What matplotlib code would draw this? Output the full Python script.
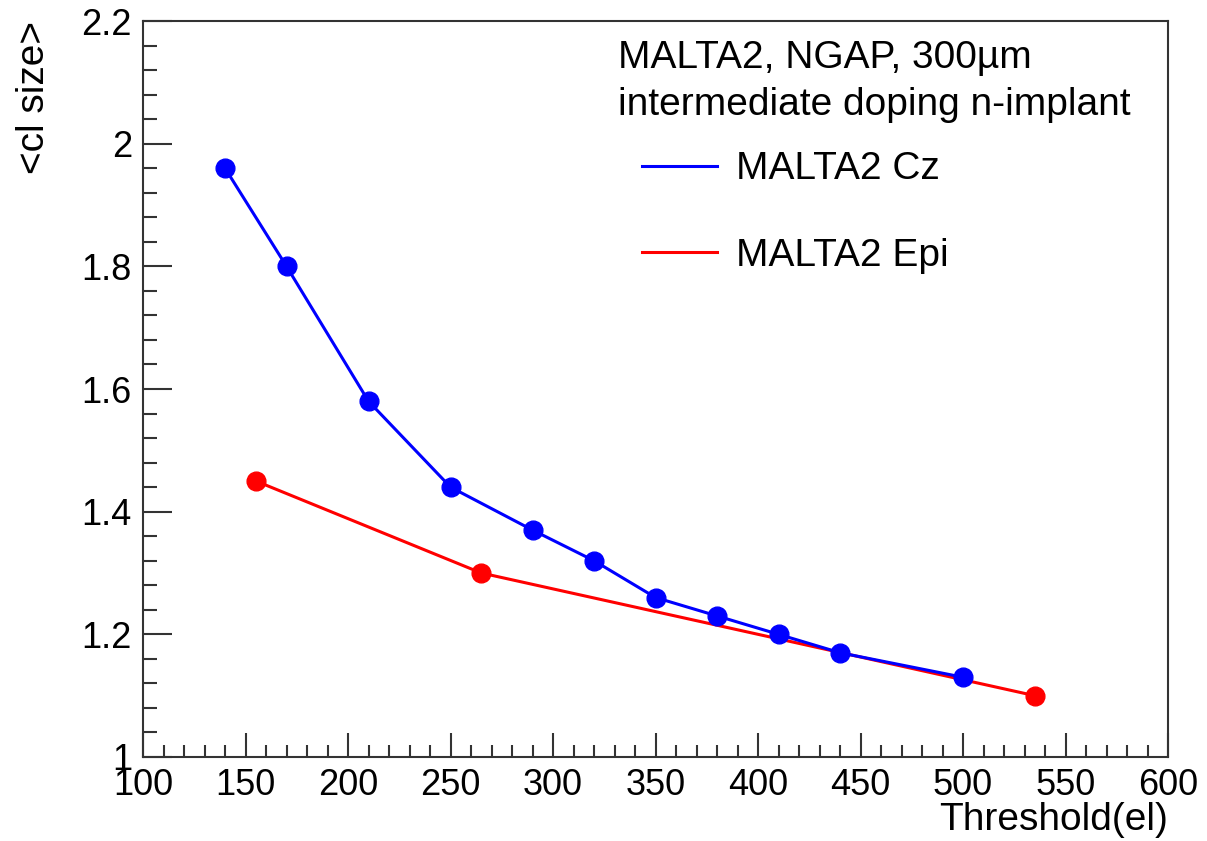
import matplotlib
matplotlib.use("Agg")
import matplotlib.pyplot as plt
from matplotlib.lines import Line2D
from matplotlib.ticker import MultipleLocator

plt.rcParams['font.family'] = ['Liberation Sans', 'DejaVu Sans']

# Mean cluster size vs threshold for the two MALTA2 substrates
thr_cz = [140, 170, 210, 250, 290, 320, 350, 380, 410, 440, 500]
cl_cz = [1.96, 1.80, 1.58, 1.44, 1.37, 1.32, 1.26, 1.23, 1.20, 1.17, 1.13]

thr_epi = [155, 265, 535]
cl_epi = [1.45, 1.30, 1.10]

label_cz = 'MALTA2 Cz'
label_epi = 'MALTA2 Epi'
header = ['MALTA2, NGAP, 300\u00b5m', 'intermediate doping n-implant']

fs_tick = 26
fs_text = 28
axis_col = '#333333'

fig = plt.figure(figsize=(12.07, 8.41), dpi=100)
ax = fig.add_axes([0.1185, 0.0999, 0.8492, 0.8751])

ax.plot(thr_epi, cl_epi, '-o', color='red', lw=2.2, ms=13.5, zorder=3)
ax.plot(thr_cz, cl_cz, '-o', color='blue', lw=2.2, ms=13.5, zorder=4)

ax.set_xlim(100, 600)
ax.set_ylim(1.0, 2.2)
ax.xaxis.set_major_locator(MultipleLocator(50))
ax.xaxis.set_minor_locator(MultipleLocator(10))
ax.yaxis.set_major_locator(MultipleLocator(0.2))
ax.yaxis.set_minor_locator(MultipleLocator(0.04))
ax.yaxis.set_major_formatter(plt.FuncFormatter(lambda v, p: f'{v:g}'))

for sp in ax.spines.values():
    sp.set_color(axis_col)
    sp.set_linewidth(1.5)
ax.tick_params(which='both', direction='in', colors=axis_col, labelcolor='black',
               labelsize=fs_tick, width=1.5)
ax.tick_params(axis='x', which='major', length=17, pad=8)
ax.tick_params(axis='x', which='minor', length=9)
ax.tick_params(axis='y', which='major', length=21, pad=8)
ax.tick_params(axis='y', which='minor', length=10)

ax.set_xlabel('Threshold(el)', fontsize=fs_text, loc='right', va='center')
ax.xaxis.set_label_coords(1.0, -0.085)
ax.set_ylabel('<cl size>', fontsize=fs_text, loc='top')
ax.yaxis.set_label_coords(-0.089, 1.0)

# legend block: header lines plus the two series entries
ax.text(0.463, 0.95, header[0], transform=ax.transAxes, fontsize=fs_text, va='center', ha='left')
ax.text(0.463, 0.886, header[1], transform=ax.transAxes, fontsize=fs_text, va='center', ha='left')
handles = [Line2D([], [], color='blue', lw=2.2), Line2D([], [], color='red', lw=2.2)]
ax.legend(handles, [label_cz, label_epi], loc='upper left', bbox_to_anchor=(0.472, 0.844),
          frameon=False, fontsize=fs_text, handlelength=1.93, handletextpad=0.49,
          labelspacing=1.3, borderaxespad=0.0)

fig.savefig('out.png', dpi=100)
